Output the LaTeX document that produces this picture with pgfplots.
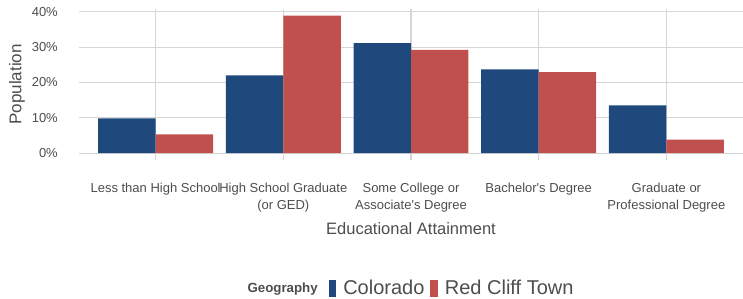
\documentclass[border=0pt]{standalone}
\usepackage{fontspec}
\setmainfont{Liberation Sans}
\usepackage{pgfplots}
\pgfplotsset{compat=1.18}
\definecolor{cblue}{HTML}{1F497D}
\definecolor{cred}{HTML}{C0504D}
\definecolor{txt}{HTML}{4D4D4D}
\definecolor{grid}{HTML}{D6D6D6}
\begin{document}
\begin{tikzpicture}
\useasboundingbox (0,0) rectangle (743bp,299bp);
\begin{axis}[
  at={(79bp,139bp)}, anchor=south west,
  scale only axis, width=664bp, height=151.2bp,
  xmin=-0.6, xmax=4.6, ymin=-1.95, ymax=40.85,
  axis line style={draw=none},
  xtick={0,1,2,3,4},
  xticklabels={Less than High School, High School Graduate\\(or GED), Some College or\\Associate\textquotesingle s Degree, Bachelor\textquotesingle s Degree, Graduate or\\Professional Degree},
  ytick={0,10,20,30,40},
  yticklabels={0\%,10\%,20\%,30\%,40\%},
  major tick length=0pt,
  xmajorgrids, ymajorgrids,
  grid style={color=grid, line width=1.1bp},
  xticklabel style={anchor=north, align=center, inner sep=0pt, yshift=-23bp, text=txt, font=\fontsize{13bp}{16.5bp}\selectfont},
  yticklabel style={anchor=east, inner sep=0pt, xshift=-21bp, text=txt, font=\fontsize{13bp}{15bp}\selectfont},
  xlabel={Educational Attainment},
  ylabel={Population},
  xlabel style={at={(axis description cs:0.5,-0.456)}, anchor=center, text=txt, font=\fontsize{16.5bp}{19bp}\selectfont},
  ylabel style={at={(axis description cs:-0.0934,0.5)}, anchor=center, text=txt, font=\fontsize{17bp}{19bp}\selectfont},
  ybar, bar width=0.45,
  legend columns=-1,
  legend style={at={(0.494,-0.847)}, anchor=center, draw=none, fill=none,
    font=\fontsize{20bp}{22bp}\selectfont, text=txt,
    inner sep=0pt,
    nodes={inner sep=0pt},
    /tikz/every odd column/.style={column sep=7bp},
    /tikz/every even column/.style={column sep=6bp}},
]
\addlegendimage{empty legend}
\addlegendentry{\fontsize{13.3bp}{15bp}\selectfont\bfseries Geography\kern5bp}
\addplot[fill=cblue, draw=none, bar shift=-0.225,
  legend image code/.code={\fill[cblue] (0bp,-8.5bp) rectangle (7.5bp,8.5bp);}]
  coordinates {(0,9.8) (1,22.0) (2,31.1) (3,23.7) (4,13.5)};
\addlegendentry{Colorado}
\addplot[fill=cred, draw=none, bar shift=0.225,
  legend image code/.code={\fill[cred] (0bp,-8.5bp) rectangle (7.5bp,8.5bp);}]
  coordinates {(0,5.3) (1,38.9) (2,29.2) (3,22.9) (4,3.8)};
\addlegendentry{Red Cliff Town}
\end{axis}
\end{tikzpicture}
\end{document}
